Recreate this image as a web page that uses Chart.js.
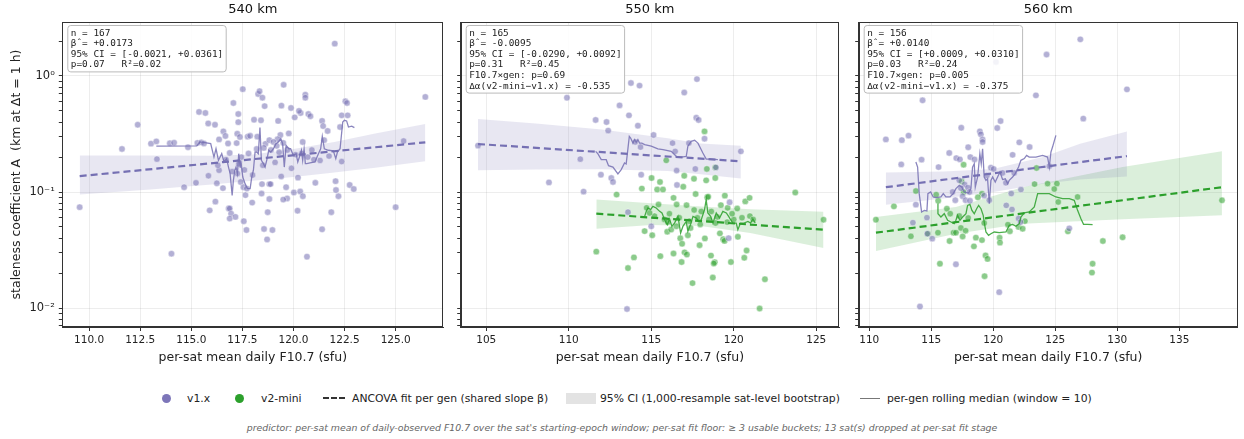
<!DOCTYPE html>
<html>
<head>
<meta charset="utf-8">
<script src="https://cdn.jsdelivr.net/npm/chart.js@4.4.1/dist/chart.umd.min.js"></script>
<style>
  body { margin: 0; background: #fff; width: 1244px; height: 439px; position: relative; overflow: hidden; font-family: 'DejaVu Sans', sans-serif; }
  canvas { position: absolute; top: 0; }
  .lg { position: absolute; top: 391px; height: 14px; display: flex; align-items: center; font-size: 10.8px; color: #222; white-space: nowrap; }
  .dot { width: 9px; height: 9px; border-radius: 50%; }
  .dash { width: 22px; border-top: 2px dashed #333; margin-right: 7px; }
  .box { width: 30px; height: 11px; background: #e3e3e3; margin-right: 4px; }
  .ln { width: 20px; border-top: 1.5px solid #777; margin-right: 7px; }
  .foot { position: absolute; top: 422px; left: 0; width: 1244px; text-align: center; font-size: 9.35px; font-style: italic; color: #666; }
</style>
</head>
<body>
<canvas id="c540" width="450" height="368" style="left:0px"></canvas>
<canvas id="c550" width="395" height="368" style="left:452px"></canvas>
<canvas id="c560" width="394" height="368" style="left:850px"></canvas>

<div class="lg" style="left:162px"><div class="dot" style="background:#7d76b9;margin-right:16px"></div>v1.x</div>
<div class="lg" style="left:235px"><div class="dot" style="background:#2ca02c;margin-right:17px"></div>v2-mini</div>
<div class="lg" style="left:323px"><div class="dash"></div>ANCOVA fit per gen (shared slope β)</div>
<div class="lg" style="left:566px"><div class="box"></div>95% CI (1,000-resample sat-level bootstrap)</div>
<div class="lg" style="left:860px"><div class="ln"></div>per-gen rolling median (window = 10)</div>
<div class="foot">predictor: per-sat mean of daily-observed F10.7 over the sat's starting-epoch window; per-sat fit floor: ≥ 3 usable buckets; 13 sat(s) dropped at per-sat fit stage</div>

<script>
// ---- axis ticks ----
const yDecades = [0.001, 0.01, 0.1, 1];
const yMajor = [0.01, 0.1, 1];
const yMajorLabels = ['10⁻²', '10⁻¹', '10⁰'];
const xTicks540 = [110, 112.5, 115, 117.5, 120, 122.5, 125];
const xLabels540 = ['110.0', '112.5', '115.0', '117.5', '120.0', '122.5', '125.0'];
const xTicks550 = [105, 110, 115, 120, 125];
const xLabels550 = ['105', '110', '115', '120', '125'];
const xTicks560 = [110, 115, 120, 125, 130, 135];
const xLabels560 = ['110', '115', '120', '125', '130', '135'];

// ---- 540 km ----
const v1Pts540 = [[122.02,1.90],[126.45,0.66],[109.54,0.074],[111.61,0.235],[112.38,0.38],
  [113.03,0.261],[113.29,0.273],[113.32,0.192],[113.95,0.263],[114.16,0.266],
  [114.03,0.0294],[114.65,0.11],[114.84,0.243],[115.23,0.12],[115.38,0.49],[115.69,0.48],
  [115.83,0.39],[116.16,0.38],[115.3,0.265],[115.49,0.268],[115.62,0.262],
  [115.84,0.138],[115.9,0.0695],[116.18,0.0826],[116.25,0.119],[116.36,0.154],[116.36,0.284],
  [116.57,0.333],[116.67,0.304],[116.8,0.262],[116.88,0.217],[116.55,0.108],
  [116.83,0.072],[116.88,0.072],[116.95,0.065],[116.88,0.059],[117.16,0.061],
  [117.06,0.585],[117.3,0.47],[117.3,0.40],[117.25,0.318],[117.38,0.298],[117.22,0.264],
  [117.52,0.77],[117.76,0.30],[117.88,0.305],
  [117.32,0.175],[117.26,0.144],[117.42,0.122],[117.55,0.11],[117.65,0.094],[117.72,0.107],[117.45,0.2],[117.6,0.155],
  [117.57,0.056],[117.7,0.047],[117.98,0.081],[118.07,0.42],[118.27,0.70],[118.34,0.74],[118.48,0.65],
  [118.41,0.415],[118.59,0.55],[118.23,0.30],[118.63,0.26],
  [118.46,0.117],[118.44,0.097],[118.56,0.048],[118.74,0.067],[118.71,0.039],[118.97,0.047],
  [118.82,0.117],[118.88,0.117],[118.82,0.087],
  [119.25,0.41],[119.52,0.84],[119.41,0.555],[119.88,0.53],[120.06,0.44],[120.35,0.48],[120.27,0.50],
  [120.58,0.69],[120.58,0.65],[120.73,0.47],[120.83,0.45],
  [119.77,0.32],[119.36,0.31],[119.22,0.285],[118.82,0.28],[119.02,0.27],[119.18,0.25],[119.5,0.265],
  [120.45,0.27],[119.4,0.136],[119.64,0.11],[119.69,0.088],[119.5,0.086],
  [120.02,0.099],[120.33,0.101],[120.46,0.092],[120.22,0.133],[120.2,0.069],[120.66,0.0277],
  [121.07,0.12],[121.4,0.41],[121.45,0.37],[121.67,0.336],[121.3,0.187],[121.74,0.204],
  [121.4,0.0477],[121.85,0.067],[122.06,0.124],[122.08,0.104],[122.2,0.092],[122.36,0.183],
  [122.28,0.363],[122.36,0.458],[122.54,0.605],[122.62,0.585],[122.65,0.458],
  [122.75,0.115],[122.95,0.106],[125.0,0.074],[125.39,0.275],[121.5,0.28],
  [118.2,0.235],[118.55,0.24],[118.9,0.23],[119.3,0.22],[119.7,0.23],[120.1,0.21],[120.4,0.215],
  [120.7,0.2],[121.0,0.19],[116.3,0.17],[116.7,0.19],[117.0,0.15],[118.0,0.14],[118.5,0.17],
  [119.1,0.18],[119.9,0.16],[120.9,0.23],[117.8,0.215]];
const v1Fit540 = [[109.54,0.137],[126.45,0.268]];
const v1Hi540 = [[109.54,0.206],[113,0.206],[116,0.205],[118,0.21],[120,0.235],[122,0.27],[124,0.32],[126.45,0.386]];
const v1Lo540 = [[109.54,0.095],[113,0.105],[116,0.116],[118,0.125],[120,0.135],[122,0.147],[124,0.162],[126.45,0.184]];
const v1Roll540 = [[113.29,0.249],[115.27,0.25],[115.43,0.27],[115.67,0.266],[115.95,0.261],[116.05,0.221],
  [116.11,0.2],[116.21,0.236],[116.33,0.1875],[116.41,0.2],[116.49,0.214],[116.6,0.1815],[116.73,0.194],
  [116.82,0.164],[116.9,0.144],[117.0,0.0936],[117.06,0.126],[117.13,0.154],[117.19,0.164],[117.26,0.144],
  [117.32,0.214],[117.39,0.164],[117.42,0.1875],[117.52,0.1347],[117.63,0.118],[117.75,0.107],[117.88,0.107],
  [117.96,0.1347],[118.04,0.154],[118.12,0.221],[118.2,0.221],[118.28,0.214],[118.36,0.359],[118.43,0.1875],
  [118.53,0.1755],[118.61,0.164],[118.69,0.1875],[118.79,0.229],[118.89,0.221],[119.02,0.236],[119.15,0.261],
  [119.26,0.27],[119.38,0.288],[119.47,0.261],[119.55,0.164],[119.64,0.252],[119.77,0.236],[119.86,0.236],
  [119.99,0.207],[120.13,0.214],[120.21,0.1815],[120.29,0.2],[120.39,0.229],[120.45,0.1875],[120.52,0.236],
  [120.58,0.1755],[120.65,0.1755],[120.81,0.178],[121.05,0.1815],[121.22,0.214],[121.33,0.236],[121.41,0.302],
  [121.51,0.236],[121.71,0.229],[121.95,0.226],[122.07,0.194],[122.15,0.221],[122.28,0.236],[122.41,0.401],
  [122.49,0.415],[122.6,0.41],[122.69,0.363],[122.85,0.37],[122.98,0.359]];
const stats540 = ['n = 167', 'β̂ = +0.0173', '95% CI = [-0.0021, +0.0361]', 'p=0.07   R²=0.02'];

// ---- 550 km ----
const v1Pts550 = [[117.77,0.94],[113.77,0.87],[114.29,0.826],[117.0,0.72],[109.89,0.65],[113.08,0.558],
  [113.65,0.458],[111.63,0.418],[112.29,0.401],[112.39,0.338],[114.19,0.373],[115.14,0.31],[117.73,0.437],
  [117.87,0.418],[118.23,0.288],[117.28,0.264],[116.29,0.264],[116.45,0.224],[114.35,0.244],[104.5,0.251],
  [120.43,0.224],[110.7,0.192],[111.95,0.141],[112.58,0.132],[112.68,0.122],[114.39,0.141],[116.54,0.153],
  [117.67,0.158],[118.92,0.163],[108.8,0.121],[110.9,0.1007],[116.56,0.115],[113.59,0.067],[115.0,0.0506],
  [119.75,0.0815],[119.69,0.040],[113.53,0.0098],[114.03,0.27]];
const v2Pts550 = [[118.23,0.333],[115.91,0.1875],[118.37,0.158],[118.88,0.163],[117.0,0.138],[117.59,0.13],
  [118.33,0.126],[118.88,0.132],[115.02,0.132],[115.53,0.122],[114.43,0.107],[115.36,0.105],[115.71,0.105],
  [116.94,0.111],[117.69,0.096],[118.39,0.09],[118.45,0.091],[119.46,0.093],[120.7,0.083],[120.96,0.089],
  [112.9,0.095],[116.35,0.089],[115.44,0.078],[116.54,0.078],[117.14,0.077],[119.22,0.077],[119.63,0.073],
  [120.21,0.072],[114.72,0.073],[118.64,0.068],[118.03,0.068],[123.73,0.099],[125.44,0.0577],[120.98,0.062],
  [121.18,0.058],[114.6,0.046],[115.06,0.0424],[115.97,0.0455],[116.21,0.0475],[116.52,0.0506],[117.38,0.049],
  [117.97,0.0525],[116.76,0.0399],[116.87,0.0358],[117.22,0.0424],[117.93,0.0348],[118.25,0.0398],[119.16,0.044],
  [119.36,0.0392],[119.44,0.0379],[120.25,0.0411],[111.67,0.0306],[113.95,0.0273],[113.59,0.0221],[115.55,0.028],
  [116.35,0.0295],[117.02,0.0302],[117.16,0.0289],[116.84,0.0249],[118.62,0.0283],[118.85,0.0248],[118.79,0.0242],
  [119.83,0.0249],[120.64,0.0271],[120.78,0.0313],[117.5,0.0164],[118.73,0.0183],[121.89,0.0177],[121.57,0.0099],
  [115.2,0.062],[115.8,0.058],[116.1,0.065],[116.7,0.06],[117.3,0.056],[117.8,0.06],[118.5,0.058],[119.0,0.061],
  [119.6,0.055],[120.0,0.058],[120.5,0.06],[114.9,0.066],[116.0,0.055],[117.6,0.07],[118.9,0.054],[119.9,0.065]];
const v1Fit550 = [[104.5,0.259],[120.43,0.184]];
const v1Hi550 = [[104.5,0.426],[108,0.39],[112,0.345],[116,0.29],[118,0.262],[120.43,0.251]];
const v1Lo550 = [[104.5,0.154],[108,0.156],[112,0.157],[116,0.152],[118,0.142],[120.43,0.131]];
const v2Fit550 = [[111.67,0.065],[125.44,0.0473]];
const v2Hi550 = [[111.67,0.086],[115,0.08],[118,0.075],[121,0.071],[125.44,0.0676]];
const v2Lo550 = [[111.67,0.0483],[115,0.052],[118,0.051],[121,0.0443],[125.44,0.0329]];
const v1Roll550 = [[111.63,0.224],[111.77,0.213],[111.97,0.19],[112.27,0.19],[112.41,0.1686],[112.68,0.164],
  [112.98,0.143],[113.18,0.156],[113.38,0.178],[113.48,0.1745],[113.59,0.239],[113.67,0.302],[113.75,0.292],
  [113.89,0.264],[113.99,0.283],[114.09,0.268],[114.19,0.283],[114.29,0.264],[114.43,0.264],[114.6,0.256],
  [115.0,0.248],[115.4,0.235],[115.71,0.232],[116.21,0.224],[116.52,0.203],[116.82,0.2],[117.12,0.203],
  [117.22,0.248],[117.42,0.273],[117.63,0.279],[117.83,0.264],[118.13,0.217],[118.33,0.192],[118.64,0.192],[119.04,0.19]];
const v2Roll550 = [[114.6,0.0617],[114.7,0.0681],[114.8,0.0728],[114.96,0.0705],[115.1,0.0752],[115.3,0.0728],
  [115.51,0.0681],[115.65,0.066],[115.81,0.0577],[115.97,0.0523],[116.11,0.0585],[116.25,0.0506],[116.41,0.054],
  [116.62,0.0617],[116.78,0.0443],[116.92,0.0506],[117.12,0.0558],[117.22,0.0458],[117.38,0.0523],[117.53,0.0617],
  [117.73,0.0597],[117.87,0.0558],[118.03,0.0577],[118.23,0.0705],[118.33,0.0859],[118.43,0.066],[118.6,0.0617],
  [118.74,0.054],[118.94,0.066],[119.14,0.0597],[119.34,0.0681],[119.55,0.066],[119.69,0.0617],[119.81,0.0577],
  [119.95,0.054],[120.15,0.054],[120.25,0.0473],[120.41,0.054],[120.62,0.054],[120.86,0.0558],[121.02,0.054],
  [121.16,0.0585],[121.3,0.054]];
const stats550 = ['n = 165', 'β̂ = -0.0095', '95% CI = [-0.0290, +0.0092]', 'p=0.31   R²=0.45',
  'F10.7×gen: p=0.69', 'Δα(v2-mini−v1.x) = -0.535'];

// ---- 560 km ----
const v1Pts560 = [[127.02,2.07],[124.3,1.53],[120.22,1.32],[130.78,0.767],[114.3,0.617],[123.44,0.681],
  [127.26,0.429],[120.59,0.409],[120.32,0.356],[117.42,0.358],[118.92,0.333],[119.0,0.314],[119.14,0.284],
  [111.34,0.284],[112.63,0.28],[113.17,0.306],[117.98,0.243],[119.14,0.27],[122.1,0.268],[122.93,0.244],
  [116.45,0.217],[117.02,0.196],[117.31,0.191],[118.15,0.2],[118.49,0.191],[121.56,0.209],[114.22,0.19],
  [112.58,0.173],[115.59,0.164],[119.81,0.162],[120.03,0.158],[124.52,0.167],[119.49,0.139],[120.75,0.146],
  [121.02,0.12],[121.69,0.146],[117.26,0.126],[117.69,0.116],[117.39,0.108],[117.96,0.109],[118.09,0.1],
  [117.53,0.092],[117.77,0.085],[118.12,0.084],[116.72,0.1],[116.94,0.085],[119.27,0.093],[119.68,0.085],
  [121.45,0.097],[122.23,0.105],[113.76,0.0778],[114.65,0.0601],[113.52,0.0544],[114.68,0.0437],[115.08,0.0396],
  [121.05,0.0767],[121.51,0.0707],[122.04,0.0591],[122.2,0.055],[126.13,0.0486],[116.99,0.0238],[120.48,0.0137],
  [114.09,0.0103]];
const v2Pts560 = [[110.54,0.0577],[111.99,0.0752],[113.76,0.102],[113.36,0.0415],[114.73,0.0437],[115.4,0.0948],
  [115.56,0.084],[116.26,0.0718],[116.53,0.065],[115.54,0.0446],[115.7,0.0241],[116.48,0.0378],[116.8,0.0446],
  [116.99,0.0446],[117.45,0.123],[117.61,0.172],[117.6,0.1],[117.39,0.049],[117.77,0.0464],[117.53,0.0414],
  [117.26,0.0621],[117.98,0.0597],[118.44,0.034],[118.6,0.0404],[119.09,0.0966],[118.76,0.09],[119.27,0.054],
  [119.09,0.0385],[119.38,0.0284],[119.54,0.0265],[119.3,0.0188],[120.51,0.0404],[120.54,0.0366],[121.18,0.0523],
  [121.34,0.0459],[122.04,0.05],[122.37,0.0482],[122.55,0.0561],[123.33,0.117],[123.49,0.161],[124.38,0.118],
  [125.13,0.118],[124.92,0.106],[125.24,0.082],[126.02,0.0458],[126.8,0.0906],[128.01,0.0241],[127.96,0.0202],
  [128.84,0.0378],[130.43,0.0407],[138.44,0.0848]];
const v1Fit560 = [[111.34,0.110],[130.78,0.204]];
const v1Hi560 = [[111.34,0.147],[116,0.15],[120,0.158],[124,0.2],[127,0.26],[130.78,0.333]];
const v1Lo560 = [[111.34,0.0778],[116,0.088],[120,0.1],[124,0.118],[127,0.128],[130.78,0.136]];
const v2Fit560 = [[110.54,0.0446],[138.44,0.110]];
const v2Hi560 = [[110.54,0.0609],[116.99,0.0743],[122.37,0.11],[130.43,0.164],[138.44,0.224]];
const v2Lo560 = [[110.54,0.031],[116.99,0.0437],[122.37,0.0533],[130.43,0.0581],[138.44,0.063]];
const v1Roll560 = [[113.76,0.1815],[113.9,0.164],[114.03,0.0968],[114.22,0.0673],[114.44,0.0695],[114.65,0.0686],
  [114.73,0.0968],[114.95,0.1],[115.16,0.0906],[115.38,0.0894],[115.78,0.0906],[115.97,0.0968],[116.18,0.0906],
  [116.51,0.0906],[116.77,0.0968],[116.99,0.107],[117.26,0.114],[117.47,0.11],[117.66,0.1],[118.01,0.098],
  [118.2,0.107],[118.33,0.164],[118.47,0.1755],[118.55,0.11],[118.74,0.1347],[118.92,0.214],[119.03,0.1755],
  [119.14,0.236],[119.27,0.1347],[119.41,0.126],[119.54,0.13],[119.68,0.0794],[119.81,0.126],[119.95,0.1347],
  [120.16,0.122],[120.35,0.1347],[120.54,0.149],[120.75,0.128],[120.97,0.13],[121.16,0.118],[121.29,0.126],
  [121.56,0.1347],[121.77,0.144],[122.04,0.164],[122.23,0.1875],[122.5,0.194],[122.69,0.207],[122.9,0.2],
  [123.44,0.2],[123.98,0.207],[124.38,0.2],[124.52,0.164],[124.65,0.221],[124.78,0.244],[125.05,0.308]];
const v2Roll560 = [[115.54,0.0794],[115.54,0.065],[115.78,0.0609],[116.05,0.065],[116.32,0.057],[116.59,0.0551],
  [116.85,0.0533],[116.99,0.057],[117.12,0.063],[117.31,0.057],[117.53,0.0609],[117.8,0.065],[117.93,0.0767],
  [118.12,0.0783],[118.28,0.0695],[118.47,0.065],[118.66,0.0718],[118.82,0.0767],[119.01,0.0718],[119.19,0.063],
  [119.27,0.0551],[119.41,0.0452],[119.62,0.0423],[119.81,0.0437],[120.08,0.0452],[120.48,0.0446],[121.02,0.0452],
  [121.29,0.0516],[121.56,0.0526],[121.83,0.0506],[122.1,0.0533],[122.23,0.0609],[122.5,0.066],[122.9,0.0673],
  [123.31,0.0743],[123.58,0.0968],[123.98,0.0968],[124.52,0.0968],[125.05,0.0906],[125.59,0.0877],[126.13,0.0877],
  [126.53,0.0848],[126.8,0.0695],[127.07,0.0589],[127.28,0.0526],[127.61,0.0526],[128.01,0.0523]];
const stats560 = ['n = 156', 'β̂ = +0.0140', '95% CI = [+0.0009, +0.0310]', 'p=0.03   R²=0.24',
  'F10.7×gen: p=0.005', 'Δα(v2-mini−v1.x) = -0.375'];

// ---- styling ----
const PURPLE = '#7570b3';
const GREEN = '#2ca02c';
const Y_MIN = 0.00686, Y_MAX = 2.92;
const GRID = 'rgba(0,0,0,0.07)';

Chart.defaults.font.family = "'DejaVu Sans', sans-serif";
Chart.defaults.color = '#222';

const framePlugin = {
  id: 'frame',
  afterDatasetsDraw(chart) {
    const { ctx, chartArea: a } = chart;
    ctx.save();
    ctx.strokeStyle = '#333';
    ctx.lineWidth = 1;
    ctx.strokeRect(Math.round(a.left) + 0.5, Math.round(a.top) + 0.5,
      Math.round(a.right - a.left) - 1, Math.round(a.bottom - a.top) - 1);
    ctx.restore();
  }
};

const statsPlugin = {
  id: 'stats',
  afterDatasetsDraw(chart, args, opts) {
    const { ctx, chartArea: a } = chart;
    const lines = opts.lines || [];
    const lh = 10.6;
    ctx.save();
    ctx.font = '9.4px "DejaVu Sans Mono", monospace';
    let w = 0;
    lines.forEach(t => { w = Math.max(w, ctx.measureText(t).width); });
    const x0 = a.left + 5.5, y0 = a.top + 3.5;
    const bw = w + 6, bh = lines.length * lh + 4;
    ctx.beginPath();
    ctx.roundRect(x0, y0, bw, bh, 3);
    ctx.fillStyle = 'rgba(255,255,255,0.85)';
    ctx.fill();
    ctx.strokeStyle = '#bbb';
    ctx.lineWidth = 1;
    ctx.stroke();
    ctx.fillStyle = '#222';
    ctx.textBaseline = 'middle';
    lines.forEach((t, i) => ctx.fillText(t, x0 + 3, y0 + 2.3 + lh * (i + 0.5)));
    ctx.restore();
  }
};

function yTickList() {
  const out = [];
  yDecades.forEach(base => {
    for (let m = 1; m <= 9; m++) {
      const v = +(m * base).toPrecision(3);
      if (v >= Y_MIN && v <= Y_MAX) out.push({ value: v, major: m === 1 });
    }
  });
  return out;
}

function majorLabel(v) {
  for (let i = 0; i < yMajor.length; i++) {
    if (Math.abs(v - yMajor[i]) < 1e-9) return yMajorLabels[i];
  }
  return '';
}

function scatterSet(pts, color) {
  return {
    type: 'scatter', data: pts, order: 5,
    backgroundColor: color === PURPLE ? 'rgba(117,112,179,0.55)' : 'rgba(44,160,44,0.55)',
    borderColor: 'rgba(255,255,255,0.7)', borderWidth: 0.6, pointRadius: 3.2
  };
}

function bandSets(hi, lo, color) {
  const fillCol = color === PURPLE ? 'rgba(117,112,179,0.17)' : 'rgba(44,160,44,0.17)';
  return [
    { type: 'line', data: hi, borderWidth: 0, pointRadius: 0, fill: false, order: 7 },
    { type: 'line', data: lo, borderWidth: 0, pointRadius: 0, fill: '-1', backgroundColor: fillCol, order: 6 }
  ];
}

function fitSet(pts, color) {
  return { type: 'line', data: pts, borderColor: color, borderWidth: 2.2, borderDash: [7, 4],
    pointRadius: 0, fill: false, order: 3 };
}

function rollSet(pts, color) {
  return { type: 'line', data: pts, borderColor: color === PURPLE ? 'rgba(117,112,179,0.85)' : 'rgba(44,160,44,0.85)',
    borderWidth: 1.3, pointRadius: 0, fill: false, order: 2 };
}

function makePanel(id, p) {
  new Chart(document.getElementById(id), {
    type: 'scatter',
    data: { datasets: p.datasets },
    plugins: [framePlugin, statsPlugin],
    options: {
      responsive: false,
      animation: false,
      events: [],
      layout: { padding: { left: 0, right: p.padRight, top: 0, bottom: 0 } },
      plugins: {
        legend: { display: false },
        tooltip: { enabled: false },
        title: { display: true, text: p.title, fullSize: false, font: { size: 13, weight: 'normal' },
          color: '#111', padding: { top: 2, bottom: 4.4 } },
        stats: { lines: p.stats }
      },
      scales: {
        x: {
          type: 'linear', min: p.xMin, max: p.xMax,
          afterBuildTicks: s => { s.ticks = p.xTicks.map(v => ({ value: v })); },
          afterFit: s => { s.height = 41; },
          ticks: { autoSkip: false, maxRotation: 0, font: { size: 10.5 }, padding: 3,
            callback: (v, i) => p.xLabels[i] },
          grid: { color: GRID, tickColor: '#333', tickLength: 4 },
          border: { color: '#333' },
          title: { display: true, text: 'per-sat mean daily F10.7 (sfu)', font: { size: 12.5 },
            padding: { top: 0, bottom: 3 } }
        },
        y: {
          type: 'logarithmic', min: Y_MIN, max: Y_MAX,
          afterBuildTicks: s => { s.ticks = yTickList(); },
          afterFit: s => { s.width = p.yWidth; },
          ticks: { autoSkip: false, font: { size: 11.5 }, padding: 4,
            callback: (v, i, t) => (p.yLabels && t[i].major) ? majorLabel(v) : '' },
          grid: { color: c => (c.tick && c.tick.major) ? GRID : 'rgba(0,0,0,0)', tickColor: '#333', tickLength: 3.5 },
          border: { color: '#333' },
          title: { display: p.yLabels, text: 'staleness coefficient A  (km at Δt = 1 h)', font: { size: 12.5 },
            padding: { top: 9, bottom: 0 } }
        }
      }
    }
  });
}

makePanel('c540', {
  title: '540 km', xMin: 108.69, xMax: 127.33, xTicks: xTicks540, xLabels: xLabels540,
  yWidth: 62.3, padRight: 6.7, yLabels: true, stats: stats540,
  datasets: [
    ...bandSets(v1Hi540, v1Lo540, PURPLE),
    scatterSet(v1Pts540, PURPLE),
    fitSet(v1Fit540, PURPLE),
    rollSet(v1Roll540, PURPLE)
  ]
});

makePanel('c550', {
  title: '550 km', xMin: 103.45, xMax: 126.38, xTicks: xTicks550, xLabels: xLabels550,
  yWidth: 8.7, padRight: 8, yLabels: false, stats: stats550,
  datasets: [
    ...bandSets(v1Hi550, v1Lo550, PURPLE),
    ...bandSets(v2Hi550, v2Lo550, GREEN),
    scatterSet(v1Pts550, PURPLE),
    scatterSet(v2Pts550, GREEN),
    fitSet(v1Fit550, PURPLE),
    fitSet(v2Fit550, GREEN),
    rollSet(v1Roll550, PURPLE),
    rollSet(v2Roll550, GREEN)
  ]
});

makePanel('c560', {
  title: '560 km', xMin: 109.15, xMax: 139.71, xTicks: xTicks560, xLabels: xLabels560,
  yWidth: 8.7, padRight: 6.3, yLabels: false, stats: stats560,
  datasets: [
    ...bandSets(v1Hi560, v1Lo560, PURPLE),
    ...bandSets(v2Hi560, v2Lo560, GREEN),
    scatterSet(v1Pts560, PURPLE),
    scatterSet(v2Pts560, GREEN),
    fitSet(v1Fit560, PURPLE),
    fitSet(v2Fit560, GREEN),
    rollSet(v1Roll560, PURPLE),
    rollSet(v2Roll560, GREEN)
  ]
});
</script>
</body>
</html>
